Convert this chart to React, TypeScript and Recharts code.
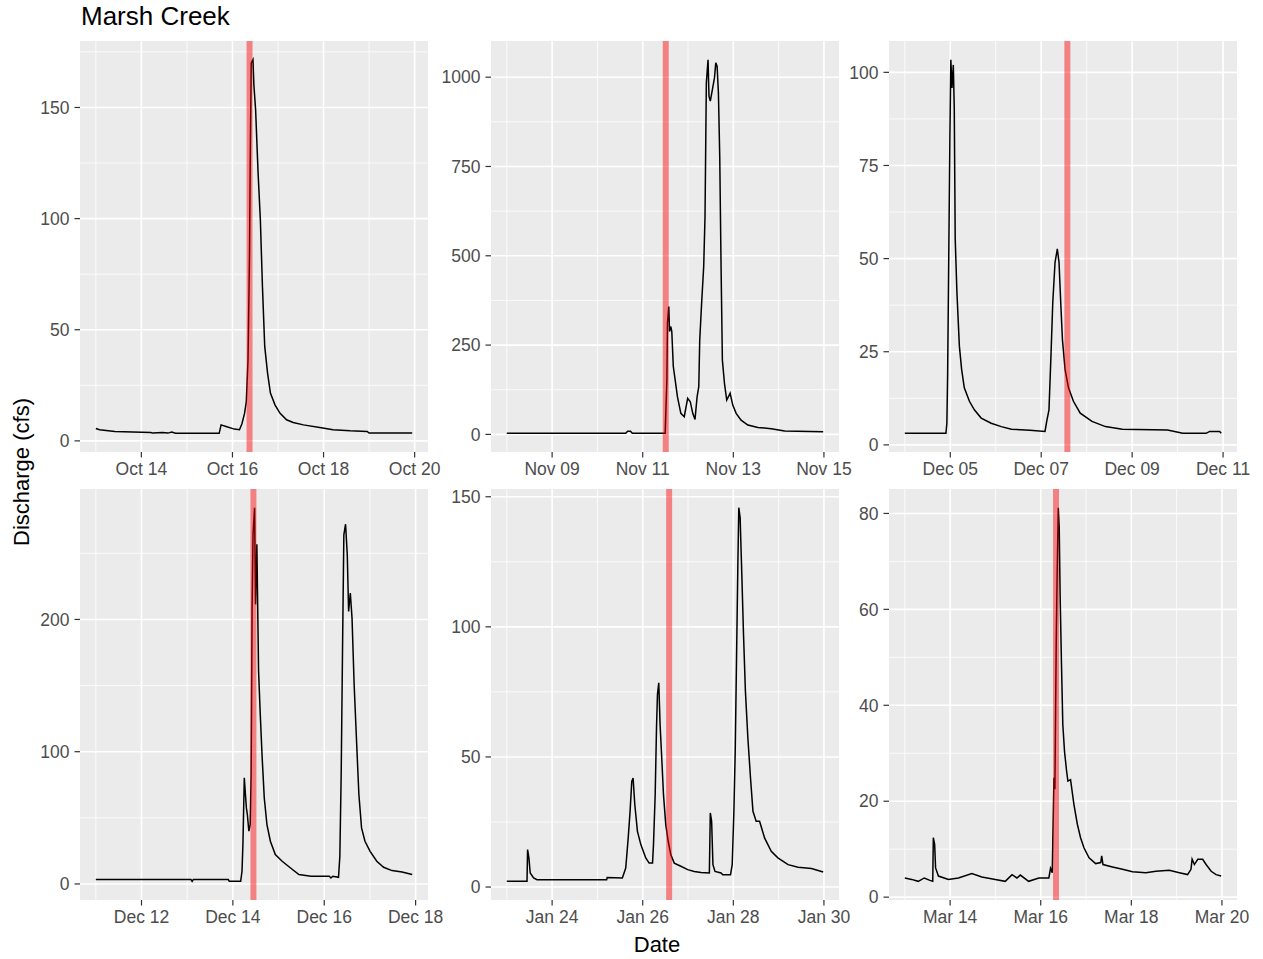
import React from 'react';
import { LineChart, Line, XAxis, YAxis, CartesianGrid, ReferenceLine } from 'recharts';

// hours since the first day shown in each panel, and discharge (cfs)
const octHours = [0, 2, 10, 29, 30, 35, 38, 40, 42, 65, 66, 68.6, 73, 75.7, 77, 78.4, 79.3, 80.2, 81, 81.4, 81.9, 82.8, 83.3, 84.2, 85.5, 86.7, 87.8, 89, 90.5, 92, 94.4, 97, 100.5, 104, 109.4, 118, 125, 134, 143, 144, 166.7];
const octFlow = [5.6, 5, 4.2, 3.8, 3.5, 3.8, 3.5, 4, 3.4, 3.4, 7.2, 6.5, 5.3, 5, 7.7, 12.5, 17.7, 36.5, 84.5, 129.6, 170, 171.5, 160, 149, 120.6, 99.5, 69.5, 42.5, 30.5, 21.5, 16.2, 12.5, 9.5, 8.3, 7.2, 6, 5, 4.5, 4.2, 3.5, 3.5];

const novHours = [0, 63, 64, 65.5, 66.5, 83.9, 84.3, 84.8, 85.1, 85.8, 86.2, 86.9, 87.4, 88.2, 89.2, 90.4, 92.2, 94, 95.8, 97.2, 98.5, 99.7, 100.8, 101.7, 102.2, 103.2, 104.3, 105, 105.7, 106.6, 107.1, 107.8, 108.9, 110, 110.7, 111.4, 112.1, 112.8, 113.5, 114.2, 115.3, 116.5, 118.3, 119.7, 121.5, 124.1, 127.7, 133, 140.1, 147.2, 167.6];
const novFlow = [3, 3, 9, 9, 3, 3, 73, 152, 311, 358, 288, 302, 288, 190, 152, 105, 59, 49.5, 101, 91.5, 59, 42, 105, 133.5, 264, 367, 470, 610, 984, 1049, 947, 933, 965, 998, 1040, 1031, 956, 778, 470, 208, 143, 96, 115, 82, 59, 40, 26, 19.5, 15.8, 9.3, 7.4];

const decAHours = [0, 21.7, 22.2, 22.6, 23.1, 23.8, 24.3, 24.9, 25.6, 26.1, 26.6, 27.5, 28.8, 30, 31.4, 34.1, 36.7, 40.3, 45.6, 50.9, 56.3, 66, 74, 74.9, 76.1, 77.2, 78.1, 79.3, 80.5, 81.4, 82.3, 83.2, 84.6, 86.4, 89, 92.6, 98.8, 105.9, 114.8, 138.7, 146.7, 159.1, 160.9, 166.2, 167];
const decAFlow = [3.1, 3.1, 5.8, 18.9, 45.4, 83, 103.4, 95.8, 102, 90.4, 55.3, 41, 26.5, 20.2, 15.3, 11.7, 9.4, 7.2, 5.8, 4.9, 4.2, 3.9, 3.6, 6.3, 9.4, 24.7, 38.2, 49, 52.6, 49, 38.2, 28.3, 20.2, 15.3, 11.7, 8.5, 6.3, 4.9, 4.2, 4, 3.1, 3.1, 3.6, 3.6, 3.1];

const decBHours = [0, 50, 50.6, 51.2, 69.6, 70.1, 76.1, 76.8, 77.3, 78, 78.6, 79.1, 79.6, 80.4, 81.1, 81.6, 82.1, 82.6, 83.4, 83.9, 84.6, 85.5, 86.4, 87.4, 88.5, 89.9, 91.7, 94.3, 97.9, 102.3, 106.7, 113, 122.7, 123.5, 124.5, 127.5, 128.2, 128.9, 129.6, 130.3, 131.2, 132.1, 132.8, 133.7, 134.6, 135.7, 136.9, 138.2, 139.6, 141.4, 144.1, 147.6, 151.2, 155.6, 160.9, 166.2];
const decBFlow = [3.3, 3.3, 2, 3.3, 3.3, 2, 2, 9.6, 31, 80.2, 67.6, 57.5, 52.5, 39.9, 44.9, 82.7, 208.9, 264.3, 284.5, 211.4, 256.8, 161, 128, 95.3, 65, 44.9, 32.3, 22.2, 17.2, 12.1, 7.1, 5.8, 5.8, 4.5, 5.8, 5, 21, 82.7, 176, 264, 272, 249, 206, 220, 201, 151, 110.5, 67.6, 42.4, 32.3, 24.7, 17.2, 12.6, 10.1, 9.1, 7.1];

const janHours = [0, 10.7, 11, 11.7, 12.4, 14.2, 16, 52.9, 53.2, 61.2, 63, 64.3, 65.3, 66.2, 66.9, 67.8, 69.2, 71, 73.6, 75.4, 77.2, 77.7, 78.6, 79.3, 79.8, 80.5, 81.2, 81.9, 83, 84.2, 85.5, 86.9, 88.7, 92.2, 95.8, 99.3, 102.9, 107.3, 107.8, 108.5, 109.2, 110.3, 113.5, 114.4, 118.5, 119.4, 120.3, 121, 121.7, 122.4, 122.9, 123.6, 124.5, 125.4, 126.4, 127.7, 129.1, 130.4, 132.1, 133.9, 136.6, 140.1, 143.6, 149, 154.3, 161.4, 167.6];
const janFlow = [2.2, 2.2, 14.4, 11.2, 5.4, 3.5, 2.8, 2.8, 3.7, 3.5, 7.3, 18.8, 29.1, 40.6, 41.9, 31.7, 21.4, 16.3, 11.2, 9.2, 9.2, 16.3, 35.5, 61.2, 74, 78.5, 62.4, 52.2, 35.5, 24, 17.6, 12.4, 9.2, 8, 6.7, 6, 5.6, 5.4, 28.5, 25.3, 8.6, 6, 5.4, 4.7, 4.7, 8.6, 29.1, 52.2, 88, 124, 145.8, 142, 120, 97, 75.3, 57.3, 41.9, 29.1, 25.3, 25.3, 18.8, 13.7, 11.2, 8.6, 7.6, 7.1, 5.8];

const marHours = [0, 3.6, 7.1, 10.3, 13.3, 14.8, 15.1, 15.8, 16.3, 17.8, 23.1, 28.4, 35.5, 40.8, 47.9, 53.2, 56.8, 59.4, 61.2, 65.6, 71, 76.3, 77.2, 78.1, 79, 79.5, 80.2, 80.7, 81.3, 81.8, 82.3, 83, 83.7, 84.6, 85.7, 86.4, 87.8, 89.6, 91.4, 93.1, 94.9, 97.6, 101.1, 103.8, 104.3, 105, 110, 115.3, 120.6, 127.7, 133, 140.1, 145.4, 149.8, 151.6, 152.2, 153.4, 155.2, 157.8, 159.6, 162.3, 164.9, 167.6];
const marFlow = [4, 3.7, 3.3, 4, 3.5, 3.3, 12.4, 11, 6.1, 4.4, 3.7, 4, 4.9, 4.2, 3.7, 3.3, 4.7, 4, 4.6, 3.3, 4, 4, 6, 5.1, 24.9, 22.5, 52.7, 67.3, 81.2, 77, 62.4, 48.5, 36, 30.4, 26.3, 24.2, 24.5, 19.3, 15.2, 12.4, 10.3, 8.2, 7, 7.2, 8.6, 6.8, 6.3, 5.8, 5.3, 5.1, 5.4, 5.6, 5.1, 4.7, 5.8, 7.9, 6.8, 7.9, 7.9, 6.8, 5.4, 4.7, 4.4];

const xTickHours = [24, 72, 120, 168];
const xMinorHours = [0, 48, 96, 144];

const octLabels = ['Oct 14', 'Oct 16', 'Oct 18', 'Oct 20'];
const novLabels = ['Nov 09', 'Nov 11', 'Nov 13', 'Nov 15'];
const decALabels = ['Dec 05', 'Dec 07', 'Dec 09', 'Dec 11'];
const decBLabels = ['Dec 12', 'Dec 14', 'Dec 16', 'Dec 18'];
const janLabels = ['Jan 24', 'Jan 26', 'Jan 28', 'Jan 30'];
const marLabels = ['Mar 14', 'Mar 16', 'Mar 18', 'Mar 20'];

const octYTicks = [0, 50, 100, 150];
const novYTicks = [0, 250, 500, 750, 1000];
const decAYTicks = [0, 25, 50, 75, 100];
const decBYTicks = [0, 100, 200];
const janYTicks = [0, 50, 100, 150];
const marYTicks = [0, 20, 40, 60, 80];

// storm event marker (hours since first day)
const eventHours = [81, 84.2, 85.8, 82.8, 86, 80.1];

const PANEL_W = 348;
const PANEL_H = 411;
const AXIS_W = 70;
const AXIS_H = 40;
const RIGHT_PAD = 26; // room for the last date label
const TOP_PAD = 12; // room for a tick label sitting at the panel top
const COL_LEFT = [80, 491, 889];
const ROW_TOP = [41, 489];
const FONT = '"Liberation Sans", Arial, sans-serif';

const expand = (vals: number[]) => {
  const lo = Math.min(...vals);
  const hi = Math.max(...vals);
  const r = hi - lo;
  return [lo - 0.05 * r, hi + 0.05 * r];
};

function Panel({ hours, flow, labels, yTicks, eventHour, left, top }: any) {
  const data = hours.map((h: number, i: number) => ({ h, q: flow[i] }));
  const xDomain = expand(hours);
  const yDomain = expand(flow);
  const step = yTicks[1] - yTicks[0];
  const yMinor: number[] = [];
  for (let v = yTicks[0] - step / 2; v <= yDomain[1]; v += step) {
    if (v >= yDomain[0]) yMinor.push(v);
  }
  const tickStyle = { fill: '#4D4D4D', fontSize: 17.5 };

  return (
    <div style={{ position: 'absolute', left: left - AXIS_W, top: top - TOP_PAD }}>
      <LineChart
        width={PANEL_W + AXIS_W + RIGHT_PAD}
        height={PANEL_H + AXIS_H + TOP_PAD}
        data={data}
        margin={{ top: TOP_PAD, right: RIGHT_PAD, bottom: 0, left: 0 }}
      >
        <CartesianGrid fill="#EBEBEB" fillOpacity={1} stroke="#FFFFFF" strokeWidth={0.8} horizontalValues={yMinor} verticalValues={xMinorHours} />
        <CartesianGrid fill="none" stroke="#FFFFFF" strokeWidth={1.6} horizontalValues={yTicks} verticalValues={xTickHours} />
        <XAxis
          dataKey="h"
          type="number"
          domain={xDomain}
          allowDataOverflow
          ticks={xTickHours}
          tickFormatter={(v: number) => labels[xTickHours.indexOf(v)]}
          interval={0}
          height={AXIS_H}
          axisLine={false}
          tickSize={5.5}
          tickMargin={5.5}
          tickLine={{ stroke: '#333333', strokeWidth: 1.2 }}
          tick={tickStyle}
        />
        <YAxis
          type="number"
          domain={yDomain}
          allowDataOverflow
          ticks={yTicks}
          interval={0}
          width={AXIS_W}
          axisLine={false}
          tickSize={5.5}
          tickMargin={5}
          tickLine={{ stroke: '#333333', strokeWidth: 1.2 }}
          tick={tickStyle}
        />
        <Line dataKey="q" type="linear" stroke="#000000" strokeWidth={1.5} dot={false} activeDot={false} isAnimationActive={false} />
        <ReferenceLine x={eventHour} stroke="#FF0000" strokeOpacity={0.45} strokeWidth={6} />
      </LineChart>
    </div>
  );
}

export default function App() {
  const panels = [
    { hours: octHours, flow: octFlow, labels: octLabels, yTicks: octYTicks },
    { hours: novHours, flow: novFlow, labels: novLabels, yTicks: novYTicks },
    { hours: decAHours, flow: decAFlow, labels: decALabels, yTicks: decAYTicks },
    { hours: decBHours, flow: decBFlow, labels: decBLabels, yTicks: decBYTicks },
    { hours: janHours, flow: janFlow, labels: janLabels, yTicks: janYTicks },
    { hours: marHours, flow: marFlow, labels: marLabels, yTicks: marYTicks },
  ];

  return (
    <div style={{ position: 'absolute', left: 0, top: 0, width: 1263, height: 959, background: '#FFFFFF', fontFamily: FONT, overflow: 'hidden' }}>
      {panels.map((p, i) => (
        <Panel key={i} {...p} eventHour={eventHours[i]} left={COL_LEFT[i % 3]} top={ROW_TOP[Math.floor(i / 3)]} />
      ))}
      <svg width={1263} height={959} style={{ position: 'absolute', left: 0, top: 0, pointerEvents: 'none' }}>
        <text x={81} y={25} fontSize={26} fill="#000000" fontFamily={FONT}>Marsh Creek</text>
        <text x={657} y={952} fontSize={22} fill="#000000" textAnchor="middle" fontFamily={FONT}>Date</text>
        <text x={29} y={472} fontSize={22} fill="#000000" textAnchor="middle" fontFamily={FONT} transform="rotate(-90 29 472)">Discharge (cfs)</text>
      </svg>
    </div>
  );
}
